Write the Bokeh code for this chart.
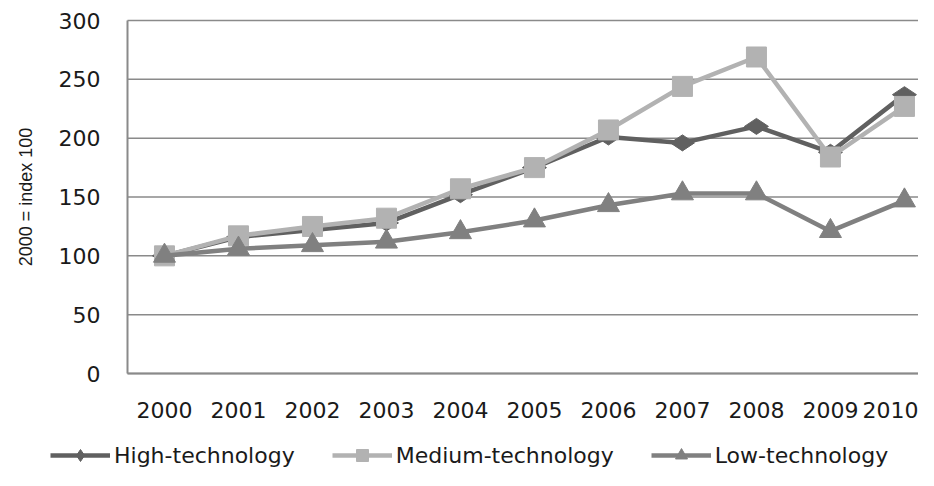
from bokeh.plotting import figure
from bokeh.models import Legend, LegendItem, FixedTicker
from bokeh.embed import file_html
from bokeh.resources import INLINE

years = [2000, 2001, 2002, 2003, 2004, 2005, 2006, 2007, 2008, 2009, 2010]
high_tech = [100, 116, 122, 128, 152, 175, 201, 196, 210, 188, 237]
medium_tech = [100, 117, 125, 132, 157, 175, 207, 244, 269, 184, 227]
low_tech = [100, 106, 109, 112, 120, 130, 143, 153, 153, 121, 147]
y_ticks = [0, 50, 100, 150, 200, 250, 300]
y_title = "2000 = index 100"
names = ["High-technology", "Medium-technology", "Low-technology"]

c_high = "#606060"
c_med = "#b2b2b2"
c_low = "#808080"
grid_c = "#8a8a8a"
font = "DejaVu Sans"
lw = 4.5

# whole canvas is the frame; axes are pinned to data locations so that the
# legend below the x axis stays inside the (unclipped) frame area
X0, X1 = 1997.784, 2010.19     # view range (frame = full canvas)
Y0, Y1 = -82.4, 317.0
AX_X = 1999.5                  # where the value axis sits

p = figure(width=918, height=470, output_backend="svg", toolbar_location=None,
           x_range=(X0, X1), y_range=(Y0, Y1),
           min_border_left=0, min_border_right=0, min_border_top=0,
           min_border_bottom=0)
p.outline_line_color = None
p.background_fill_color = "white"
p.border_fill_color = "white"

# horizontal gridlines from the tick values, starting at the value axis
p.grid.visible = False
p.segment(x0=[AX_X] * len(y_ticks), x1=[X1] * len(y_ticks),
          y0=y_ticks, y1=y_ticks, line_color=grid_c, line_width=1.5)

# axes
xa = p.xaxis[0]
ya = p.yaxis[0]
xa.fixed_location = 0
ya.fixed_location = AX_X
xa.bounds = (AX_X, X1)
ya.bounds = (y_ticks[0], y_ticks[-1])
xa.ticker = FixedTicker(ticks=years)
xa.major_label_overrides = {y: str(y) for y in years}
ya.ticker = FixedTicker(ticks=y_ticks)
for ax in (xa, ya):
    ax.axis_line_color = grid_c
    ax.axis_line_width = 2
    ax.major_tick_line_color = None
    ax.minor_tick_line_color = None
    ax.major_tick_out = 0
    ax.major_tick_in = 0
    ax.major_label_text_font = font
    ax.major_label_text_font_size = "22px"
    ax.major_label_text_color = "#1a1a1a"
xa.major_label_standoff = 28
ya.major_label_standoff = 27
ya.axis_label = y_title
ya.axis_label_text_font = "Liberation Sans"
ya.axis_label_text_font_style = "normal"
ya.axis_label_text_font_size = "18px"
ya.axis_label_text_color = "#1a1a1a"
ya.axis_label_standoff = 20

l1 = p.line(years, high_tech, line_color=c_high, line_width=lw)
m1 = p.scatter(years, high_tech, marker="diamond", size=24, angle=1.5708,
               fill_color=c_high, line_color=c_high)
l2 = p.line(years, medium_tech, line_color=c_med, line_width=lw)
m2 = p.scatter(years, medium_tech, marker="square", size=20,
               fill_color=c_med, line_color=c_med)
l3 = p.line(years, low_tech, line_color=c_low, line_width=lw)
m3 = p.scatter(years, low_tech, marker="triangle", size=22,
               fill_color=c_low, line_color=c_low)

legend = Legend(items=[
    LegendItem(label=names[0], renderers=[l1, m1]),
    LegendItem(label=names[1], renderers=[l2, m2]),
    LegendItem(label=names[2], renderers=[l3, m3]),
], orientation="horizontal", location=(50, 0))
legend.margin = 0
legend.padding = 0
legend.spacing = 37
legend.glyph_width = 60
legend.glyph_height = 30
legend.label_standoff = 4
legend.label_text_font = font
legend.label_text_font_size = "22px"
legend.label_text_color = "#1a1a1a"
legend.border_line_color = None
legend.background_fill_alpha = 0
p.add_layout(legend, "center")

open("out.html", "w").write(file_html(p, INLINE))
